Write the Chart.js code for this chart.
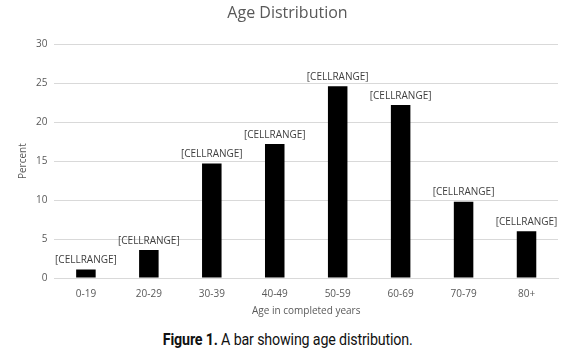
<!DOCTYPE html>
<html>
<head>
<meta charset="utf-8">
<script src="https://cdn.jsdelivr.net/npm/chart.js@4/dist/chart.umd.min.js"></script>
<style>
  html, body { margin: 0; padding: 0; background: #fff; }
  #wrap { position: relative; width: 575px; height: 317px; }
  #caption {
    font-family: "Roboto", sans-serif;
    font-size: 17px; color: #111; text-align: center;
    width: 575px; margin-top: 12px;
  }
  #caption span { display: inline-block; transform: scaleX(0.84); letter-spacing: -0.2px; }
</style>
</head>
<body>
<div id="wrap"><canvas id="ageChart"></canvas></div>
<div id="caption"><span><b>Figure 1.</b> A bar showing age distribution.</span></div>
<script>
// Categories and values
const ageGroups = ['0-19', '20-29', '30-39', '40-49', '50-59', '60-69', '70-79', '80+'];
const percents = [1.1, 3.6, 14.7, 17.2, 24.6, 22.2, 9.8, 6.0];
const barLabel = '[CELLRANGE]';

// draws the label above each bar
const topLabels = {
    id: 'topLabels',
    afterDatasetsDraw(chart) {
        const ctx = chart.ctx;
        ctx.save();
        ctx.font = '10px "Open Sans", sans-serif';
        ctx.fillStyle = '#404040';
        ctx.textAlign = 'center';
        ctx.textBaseline = 'bottom';
        chart.getDatasetMeta(0).data.forEach(bar => {
            ctx.fillText(barLabel, bar.x, bar.y - 4);
        });
        ctx.restore();
    }
};

const font10 = { family: '"Open Sans", sans-serif', size: 10 };

const ctx = document.getElementById('ageChart').getContext('2d');
new Chart(ctx, {
    type: 'bar',
    data: {
        labels: ageGroups,
        datasets: [{
            data: percents,
            backgroundColor: '#000',
            barPercentage: 0.62,
            categoryPercentage: 0.5
        }]
    },
    options: {
        responsive: true,
        maintainAspectRatio: false,
        animation: false,
        layout: { padding: { left: 17, right: 17, top: 4, bottom: 0 } },
        plugins: {
            legend: { display: false },
            tooltip: { enabled: false },
            title: {
                display: true,
                text: 'Age Distribution',
                color: '#595959',
                font: { family: '"Open Sans", sans-serif', size: 16, weight: 'normal' },
                padding: { top: 0, bottom: 21 }
            }
        },
        scales: {
            y: {
                min: 0, max: 30,
                ticks: { stepSize: 5, color: '#595959', font: font10, padding: 7 },
                grid: { color: '#d9d9d9', drawTicks: false },
                border: { display: false },
                title: { display: true, text: 'Percent', color: '#595959', font: font10, padding: { top: 0, bottom: 0 } }
            },
            x: {
                ticks: { color: '#595959', font: font10, padding: 10 },
                grid: { display: false, drawTicks: false },
                border: { color: '#d9d9d9' },
                title: { display: true, text: 'Age in completed years', color: '#595959', font: font10, padding: { top: -5, bottom: 0 } }
            }
        }
    },
    plugins: [topLabels]
});
</script>
</body>
</html>
